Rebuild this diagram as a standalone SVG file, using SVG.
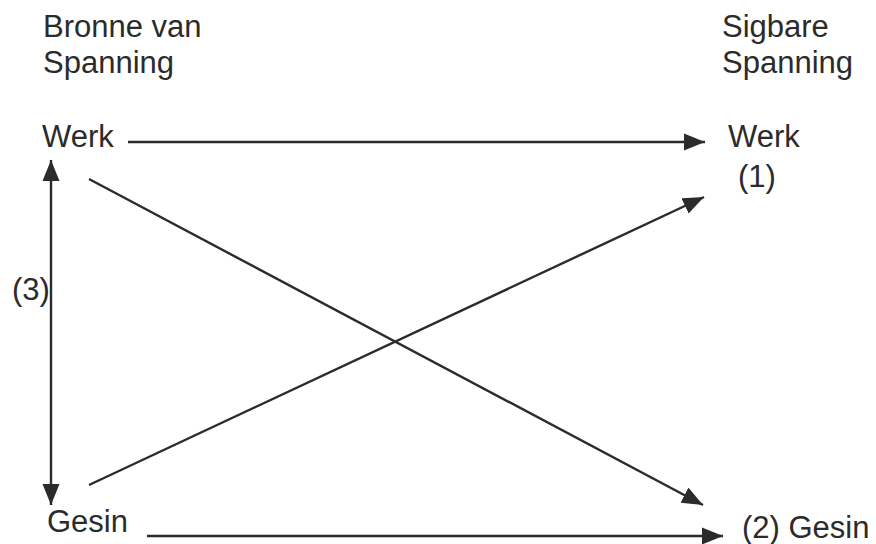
<svg xmlns="http://www.w3.org/2000/svg" width="876" height="544" viewBox="0 0 876 544">
<style>
text{font-family:"Liberation Sans",Arial,sans-serif;font-size:31px;fill:#2b2b2b}
.c{stroke:#2b2b2b;stroke-width:2.4;fill:none;marker-end:url(#ah)}
</style>
<defs>
<marker id="ah" markerUnits="userSpaceOnUse" markerWidth="24" markerHeight="20" refX="21" refY="9" orient="auto-start-reverse">
<path d="M0,0.5 L21,9 L0,17.5 z" fill="#2b2b2b"/>
</marker>
</defs>
<rect width="876" height="544" fill="#fff"/>
<g id="hdr-left"><text x="43" y="37">Bronne van</text><text x="43" y="73">Spanning</text></g>
<g id="hdr-right"><text x="722" y="37">Sigbare</text><text x="722" y="73">Spanning</text></g>
<g id="werk-src"><text x="42" y="147">Werk</text></g>
<g id="gesin-src"><text x="47" y="532">Gesin</text></g>
<g id="werk-tgt"><text x="728" y="147">Werk</text><text x="738" y="187">(1)</text></g>
<g id="gesin-tgt"><text x="742" y="538">(2) Gesin</text></g>
<g id="label3"><text x="12" y="300">(3)</text></g>
<g id="connectors">
<line class="c" x1="128" y1="142" x2="705" y2="142"/>
<line class="c" x1="51" y1="160" x2="51" y2="505" style="marker-start:url(#ah)"/>
<line class="c" x1="89" y1="179" x2="703" y2="505"/>
<line class="c" x1="89" y1="485" x2="704" y2="197"/>
<line class="c" x1="147" y1="536" x2="723" y2="536"/>
</g>
</svg>
